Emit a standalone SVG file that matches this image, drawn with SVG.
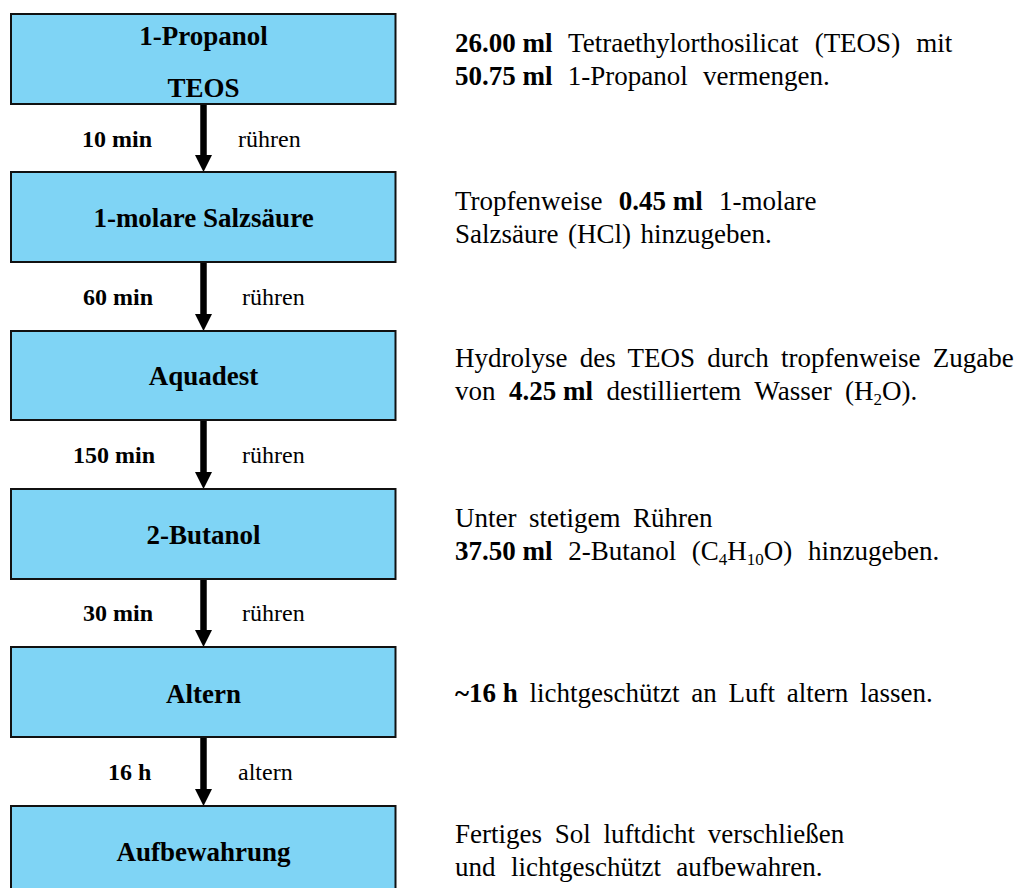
<svg xmlns="http://www.w3.org/2000/svg" width="1016" height="888" viewBox="0 0 1016 888">
<style>
  text { font-family: "Liberation Serif", "Times New Roman", serif; fill: #000; }
  .box { fill: #7FD4F5; stroke: #111; stroke-width: 2; }
  .lbl { font-size: 27px; font-weight: bold; text-anchor: middle; }
  .el { font-size: 24px; }
  .b { font-weight: bold; }
  .desc .b { word-spacing: 0; }
  .desc { font-size: 27px; }
  .sub { font-size: 17px; }
  .conn { stroke: #000; stroke-width: 6.5; fill: none; marker-end: url(#ah); }
</style>
<defs>
  <marker id="ah" viewBox="0 0 17 17" refX="9" refY="8.5" markerWidth="17" markerHeight="17" markerUnits="userSpaceOnUse" orient="auto">
    <path d="M0,0 L17,8.5 L0,17 z" fill="#000"/>
  </marker>
</defs>
<rect width="1016" height="888" fill="#fff"/>

<g id="connectors">
  <line class="conn" x1="203.5" y1="104" x2="203.5" y2="164"/>
  <line class="conn" x1="203.5" y1="262" x2="203.5" y2="323"/>
  <line class="conn" x1="203.5" y1="420" x2="203.5" y2="481"/>
  <line class="conn" x1="203.5" y1="579" x2="203.5" y2="639"/>
  <line class="conn" x1="203.5" y1="737" x2="203.5" y2="798"/>
  <text class="el b" x="82" y="147">10 min</text>
  <text class="el" x="238" y="147">rühren</text>
  <text class="el b" x="83" y="305">60 min</text>
  <text class="el" x="242" y="305">rühren</text>
  <text class="el b" x="73" y="463">150 min</text>
  <text class="el" x="242" y="463">rühren</text>
  <text class="el b" x="83" y="621">30 min</text>
  <text class="el" x="242" y="621">rühren</text>
  <text class="el b" x="108" y="780">16 h</text>
  <text class="el" x="238" y="780">altern</text>
</g>

<g id="n1">
  <rect class="box" x="11" y="14" width="384.5" height="90"/>
  <text class="lbl" x="203.5" y="45">1-Propanol</text>
  <text class="lbl" x="203.5" y="97">TEOS</text>
</g>
<g id="n2">
  <rect class="box" x="11" y="172" width="384.5" height="90"/>
  <text class="lbl" x="203.5" y="227">1-molare Salzsäure</text>
</g>
<g id="n3">
  <rect class="box" x="11" y="331" width="384.5" height="89"/>
  <text class="lbl" x="203.5" y="385">Aquadest</text>
</g>
<g id="n4">
  <rect class="box" x="11" y="489" width="384.5" height="90"/>
  <text class="lbl" x="203.5" y="544">2-Butanol</text>
</g>
<g id="n5">
  <rect class="box" x="11" y="647" width="384.5" height="90"/>
  <text class="lbl" x="203.5" y="703">Altern</text>
</g>
<g id="n6">
  <rect class="box" x="11" y="806" width="384.5" height="92"/>
  <text class="lbl" x="203.5" y="861">Aufbewahrung</text>
</g>

<g id="d1">
  <text class="desc" x="455" y="52" word-spacing="9.3"><tspan class="b">26.00 ml</tspan> Tetraethylorthosilicat (TEOS) mit</text>
  <text class="desc" x="455" y="85" word-spacing="8.5"><tspan class="b">50.75 ml</tspan> 1-Propanol vermengen.</text>
</g>
<g id="d2">
  <text class="desc" x="455" y="210" word-spacing="9.5">Tropfenweise <tspan class="b">0.45 ml</tspan> 1-molare</text>
  <text class="desc" x="455" y="243" word-spacing="2.8">Salzsäure (HCl) hinzugeben.</text>
</g>
<g id="d3">
  <text class="desc" x="455" y="367" word-spacing="5.5">Hydrolyse des TEOS durch tropfenweise Zugabe</text>
  <text class="desc" x="455" y="400" word-spacing="6.7">von <tspan class="b">4.25 ml</tspan> destilliertem Wasser (H<tspan class="sub" dy="5">2</tspan><tspan dy="-5">O).</tspan></text>
</g>
<g id="d4">
  <text class="desc" x="455" y="527" word-spacing="5.8">Unter stetigem Rühren</text>
  <text class="desc" x="455" y="560" word-spacing="8.9"><tspan class="b">37.50 ml</tspan> 2-Butanol (C<tspan class="sub" dy="5">4</tspan><tspan dy="-5">H</tspan><tspan class="sub" dy="5">10</tspan><tspan dy="-5">O)</tspan> hinzugeben.</text>
</g>
<g id="d5">
  <text class="desc" x="455" y="702" word-spacing="5"><tspan class="b">~16 h</tspan> lichtgeschützt an Luft altern lassen.</text>
</g>
<g id="d6">
  <text class="desc" x="455" y="843" word-spacing="6">Fertiges Sol luftdicht verschließen</text>
  <text class="desc" x="455" y="876" word-spacing="8.7">und lichtgeschützt aufbewahren.</text>
</g>
</svg>
